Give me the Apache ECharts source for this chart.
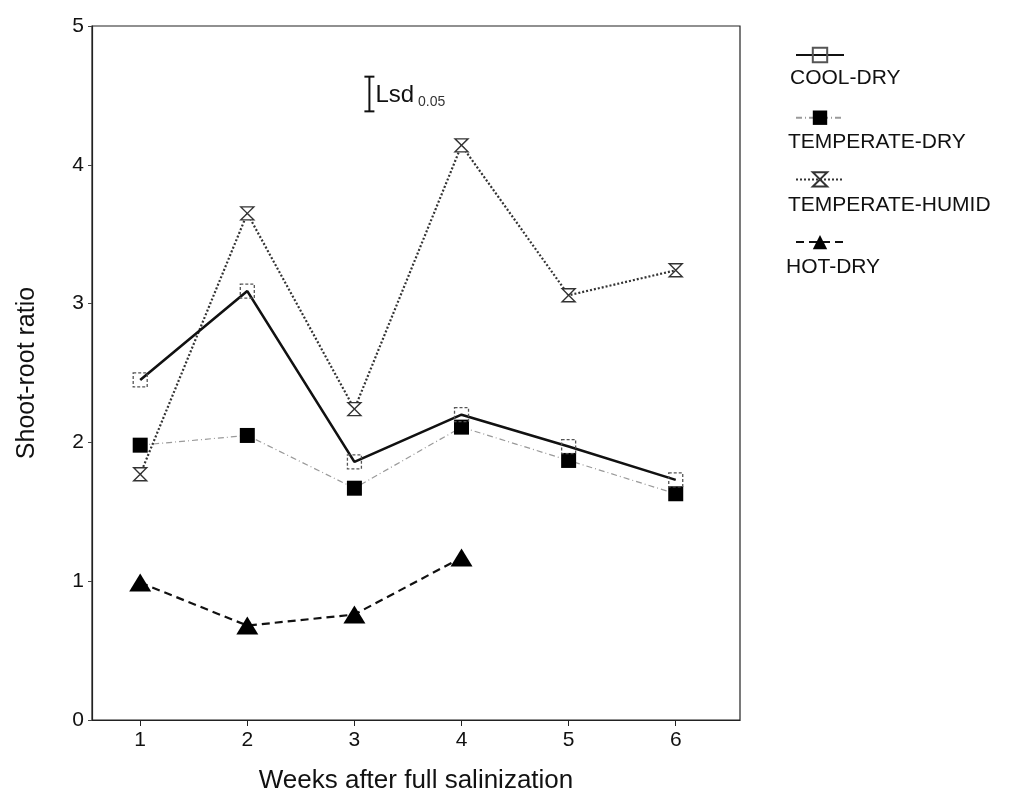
<!DOCTYPE html>
<html>
<head>
<meta charset="utf-8">
<script src="https://cdn.jsdelivr.net/npm/echarts@6/dist/echarts.min.js"></script>
<style>
html,body{margin:0;padding:0;background:#fff;}
#c{width:1017px;height:803px;}
</style>
</head>
<body>
<div id="c"></div>
<script>
// ---- data ----
var weeks = [1, 2, 3, 4, 5, 6];
var coolDry = [2.45, 3.09, 1.86, 2.20, 1.97, 1.73];
var temperateDry = [1.98, 2.05, 1.67, 2.11, 1.87, 1.63];
var temperateHumid = [1.77, 3.65, 2.24, 4.14, 3.06, 3.24];
var hotDry = [0.99, 0.68, 0.76, 1.17];
var seriesNames = ['COOL-DRY', 'TEMPERATE-DRY', 'TEMPERATE-HUMID', 'HOT-DRY'];
var yTicks = [0, 1, 2, 3, 4, 5];
var lsd = { week: 3.14, center: 4.51, value: 0.25 };

function pairs(vals) { return vals.map(function (v, i) { return [weeks[i], v]; }); }

var FONT = '"Liberation Sans", Arial, Helvetica, sans-serif';
var chart = echarts.init(document.getElementById('c'));

var hourglass = 'path://M0,0L10,0L5,6L10,12L0,12L5,6Z';

chart.setOption({
  backgroundColor: '#fff',
  animation: false,
  grid: { left: 92, right: 277, top: 26, bottom: 83, show: true, borderColor: '#222', borderWidth: 1.2, backgroundColor: 'transparent' },
  xAxis: {
    type: 'value', min: 0.55, max: 6.6,
    name: 'Weeks after full salinization', nameLocation: 'middle', nameGap: 48,
    nameTextStyle: { fontFamily: FONT, fontSize: 26, color: '#111' },
    axisLine: { show: true, lineStyle: { color: '#222', width: 1.2 } },
    axisTick: { show: true, customValues: weeks, length: 6, inside: false, lineStyle: { color: '#222' } },
    axisLabel: { customValues: weeks, fontFamily: FONT, fontSize: 21, color: '#111', margin: 10 },
    splitLine: { show: false }
  },
  yAxis: {
    type: 'value', min: 0, max: 5, interval: 1,
    name: 'Shoot-root ratio', nameLocation: 'middle', nameGap: 52,
    nameTextStyle: { fontFamily: FONT, fontSize: 25, color: '#111' },
    axisLine: { show: true, lineStyle: { color: '#222', width: 1.2 } },
    axisTick: { show: true, length: 4, lineStyle: { color: '#444' } },
    axisLabel: { fontFamily: FONT, fontSize: 21, color: '#111', margin: 8,
      formatter: function (v) { return yTicks.indexOf(v) >= 0 ? String(v) : ''; } },
    splitLine: { show: false }
  },
  legend: {
    orient: 'vertical', left: 790, top: 41,
    itemWidth: 48, itemHeight: 18, itemGap: 45.5,
    data: seriesNames,
    formatter: function () { return ''; },
    textStyle: { fontSize: 1 },
    selectedMode: false
  },
  graphic: [
    { type: 'text', left: 790, top: 68, style: { text: 'COOL-DRY', font: '21px ' + FONT, fill: '#111' } },
    { type: 'text', left: 788, top: 132, style: { text: 'TEMPERATE-DRY', font: '21px ' + FONT, fill: '#111' } },
    { type: 'text', left: 788, top: 195, style: { text: 'TEMPERATE-HUMID', font: '21px ' + FONT, fill: '#111' } },
    { type: 'text', left: 786, top: 257, style: { text: 'HOT-DRY', font: '21px ' + FONT, fill: '#111' } }
  ],
  series: [
    {
      name: 'TEMPERATE-DRY', type: 'line', data: pairs(temperateDry), z: 2,
      symbol: 'rect', symbolSize: 15,
      lineStyle: { color: '#9a9a9a', width: 1.2, type: [6, 3, 1, 3] },
      itemStyle: { color: '#000', borderColor: '#000', borderWidth: 0 }
    },
    {
      name: 'TEMPERATE-HUMID', type: 'line', data: pairs(temperateHumid), z: 3,
      symbol: hourglass, symbolSize: [13, 13],
      lineStyle: { color: '#333', width: 2.2, type: [2, 2] },
      itemStyle: { color: '#fff', borderColor: '#333', borderWidth: 1.4 }
    },
    {
      name: 'COOL-DRY', type: 'line', data: pairs(coolDry), z: 4,
      symbol: 'rect', symbolSize: 14,
      lineStyle: { color: '#111', width: 2.6, type: 'solid' },
      itemStyle: { color: 'rgba(255,255,255,0)', borderColor: '#555', borderWidth: 1.3, borderType: [3, 2] }
    },
    {
      name: 'HOT-DRY', type: 'line', data: pairs(hotDry), z: 4,
      symbol: 'triangle', symbolSize: [22, 18],
      lineStyle: { color: '#111', width: 2.2, type: [8, 5] },
      itemStyle: { color: '#000' }
    },
    {
      name: 'lsd', type: 'custom', z: 5, silent: true,
      data: [[lsd.week, lsd.center - lsd.value / 2, lsd.center + lsd.value / 2]],
      renderItem: function (params, api) {
        var lo = api.coord([api.value(0), api.value(1)]);
        var hi = api.coord([api.value(0), api.value(2)]);
        var x = lo[0];
        return {
          type: 'group', children: [
            { type: 'line', shape: { x1: x, y1: lo[1], x2: x, y2: hi[1] }, style: { stroke: '#111', lineWidth: 2 } },
            { type: 'line', shape: { x1: x - 5, y1: lo[1], x2: x + 5, y2: lo[1] }, style: { stroke: '#111', lineWidth: 2 } },
            { type: 'line', shape: { x1: x - 5, y1: hi[1], x2: x + 5, y2: hi[1] }, style: { stroke: '#111', lineWidth: 2 } },
            { type: 'text', x: x + 6, y: (lo[1] + hi[1]) / 2 + 1, style: {
                text: '{a|Lsd}{b| 0.05}', verticalAlign: 'middle', align: 'left',
                rich: {
                  a: { fontFamily: FONT, fontSize: 24, fill: '#111' },
                  b: { fontFamily: FONT, fontSize: 14, fill: '#333', padding: [14, 0, 0, 0] }
                }
              } }
          ]
        };
      }
    }
  ]
});
</script>
</body>
</html>
